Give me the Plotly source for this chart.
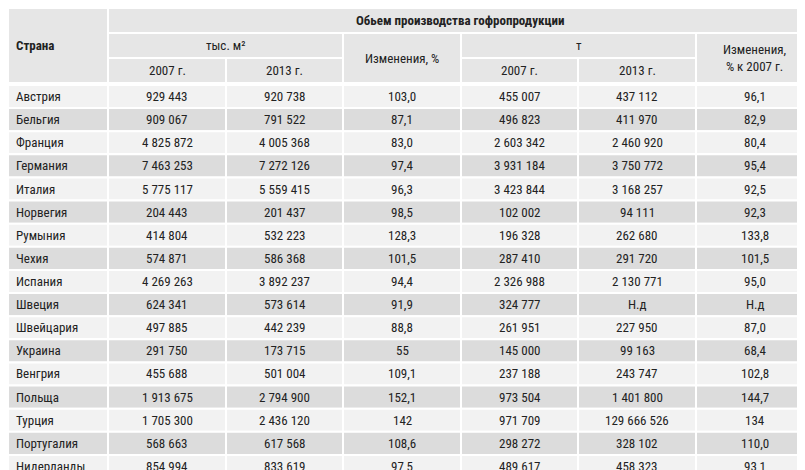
import plotly.graph_objects as go

countries = ["Австрия","Бельгия","Франция","Германия","Италия","Норвегия","Румыния","Чехия","Испания","Швеция","Швейцария","Украина","Венгрия","Польща","Турция","Португалия","Нидерланды"]
m2_2007 = ["929 443","909 067","4 825 872","7 463 253","5 775 117","204 443","414 804","574 871","4 269 263","624 341","497 885","291 750","455 688","1 913 675","1 705 300","568 663","854 994"]
m2_2013 = ["920 738","791 522","4 005 368","7 272 126","5 559 415","201 437","532 223","586 368","3 892 237","573 614","442 239","173 715","501 004","2 794 900","2 436 120","617 568","833 619"]
m2_chg = ["103,0","87,1","83,0","97,4","96,3","98,5","128,3","101,5","94,4","91,9","88,8","55","109,1","152,1","142","108,6","97,5"]
t_2007 = ["455 007","496 823","2 603 342","3 931 184","3 423 844","102 002","196 328","287 410","2 326 988","324 777","261 951","145 000","237 188","973 504","971 709","298 272","489 617"]
t_2013 = ["437 112","411 970","2 460 920","3 750 772","3 168 257","94 111","262 680","291 720","2 130 771","Н.д","227 950","99 163","243 747","1 401 800","129 666 526","328 102","458 323"]
t_chg = ["96,1","82,9","80,4","95,4","92,5","92,3","133,8","101,5","95,0","Н.д","87,0","68,4","102,8","144,7","134","110,0","93,1"]

W, H = 805, 470
top = 77
cols = [0, 100, 218, 335, 453, 570, 688, 805]
FONT = "Roboto Condensed, Liberation Sans Narrow, Roboto, sans-serif"
rh = (H - top) / len(countries)

# invisible axes in pixel units
fig = go.Figure()
fig.update_xaxes(range=[0, W], visible=False, fixedrange=True)
fig.update_yaxes(range=[H, 0], visible=False, fixedrange=True)

shapes, anns = [], []
def cell(x0, x1, y0, y1, text, fill, bold=False, align="center"):
    shapes.append(dict(type="rect", xref="x", yref="y", x0=x0, x1=x1, y0=y0, y1=y1,
                       fillcolor=fill, line=dict(color="white", width=2), layer="below"))
    xa = x0 + 6 if align == "left" else (x0 + x1) / 2
    anns.append(dict(xref="x", yref="y", x=xa, y=(y0 + y1) / 2, text=text, showarrow=False,
                     xanchor="left" if align == "left" else "center", yanchor="middle", align="center",
                     font=dict(family=FONT, size=13, color="#222")))

HF = "#e6e6e6"
cell(0, 100, 0, 75, "<b>Страна</b>", HF, align="left")
cell(100, 805, 0, 25, "<b>Обьем производства гофропродукции</b>", HF)
cell(100, 335, 25, 50, "тыс. м²", HF)
cell(335, 453, 25, 75, "Изменения, %", HF)
cell(453, 688, 25, 50, "т", HF)
cell(688, 805, 25, 75, "Изменения,<br>% к 2007 г.", HF)
for i, y in enumerate(["2007 г.", "2013 г.", "2007 г.", "2013 г."]):
    c = [1, 2, 4, 5][i]
    cell(cols[c], cols[c + 1], 50, 75, y, HF)

columns = [countries, m2_2007, m2_2013, m2_chg, t_2007, t_2013, t_chg]
for r in range(len(countries)):
    fill = "#f2f2f2" if r % 2 == 0 else "#dcdcdc"
    y0 = top + r * rh
    for c, vals in enumerate(columns):
        cell(cols[c], cols[c + 1], y0, y0 + rh, vals[r], fill, align="left" if c == 0 else "center")

fig.update_layout(width=W, height=H, margin=dict(l=0, r=0, t=0, b=0),
                  paper_bgcolor="white", plot_bgcolor="white", shapes=shapes, annotations=anns)
fig.write_html("out.html")
